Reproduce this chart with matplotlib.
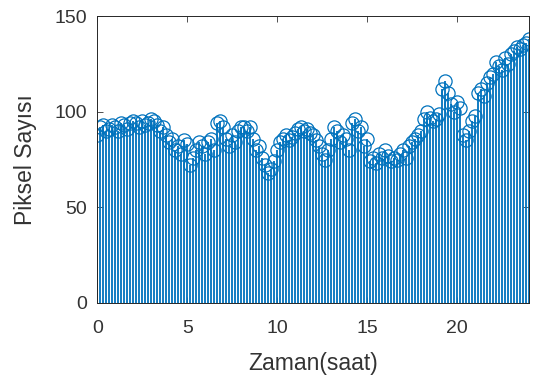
import numpy as np
import matplotlib
matplotlib.use("Agg")
import matplotlib.pyplot as plt

#_________________________________________
# DATA (one sample every 10 minutes)
#_________________________________________
hours = np.arange(0, 24 + 1e-9, 1/6)
pixels = [
    88, 92, 93, 90, 91, 93,
    92, 90, 94, 93, 91, 94,
    95, 94, 92, 95, 93, 94,
    96, 95, 93, 90, 92, 88,
    84, 86, 80, 82, 78, 85,
    83, 72, 76, 80, 84, 82,
    78, 84, 86, 80, 94, 95,
    92, 86, 82, 88, 84, 90,
    92, 92, 90, 92, 86, 80,
    82, 76, 72, 68, 70, 74,
    80, 84, 86, 88, 85, 87,
    89, 91, 92, 90, 91, 89,
    88, 85, 82, 78, 75, 80,
    86, 92, 90, 84, 88, 86,
    80, 94, 96, 90, 92, 82,
    86, 74, 76, 73, 78, 76,
    80, 77, 74, 76, 75, 78,
    80, 76, 82, 84, 86, 88,
    90, 96, 100, 97, 95, 96,
    99, 112, 116, 110, 104, 100,
    105, 102, 88, 85, 90, 95,
    98, 110, 112, 108, 115, 118,
    120, 126, 124, 122, 128, 125,
    130, 132, 134, 133, 135, 136,
    138,
]
x_ticks = [0, 5, 10, 15, 20]
y_ticks = [0, 50, 100, 150]

blue = '#0072BD'
grey = '#333333'
plt.rcParams["font.family"] = ["Liberation Sans", "DejaVu Sans"]

fig = plt.figure(figsize=(5.34, 3.85), dpi=100)
ax = fig.add_axes([0.182, 0.213, 0.809, 0.745])

markerline, stemlines, baseline = ax.stem(hours, pixels, basefmt=' ')
plt.setp(stemlines, color=blue, linewidth=1.3)
plt.setp(markerline, color=blue, markerfacecolor='none', markeredgewidth=0.9, markersize=9.5)

ax.set_xlim(0, 24)
ax.set_ylim(0, 150)
ax.set_xticks(x_ticks)
ax.set_yticks(y_ticks)
ax.tick_params(direction='in', top=True, right=True, labelsize=14,
               colors=grey, length=4, width=0.6)
ax.tick_params(axis='x', pad=12)
ax.tick_params(axis='y', pad=7)
for s in ax.spines.values():
    s.set_color('#262626')
    s.set_linewidth(0.7)

ax.set_xlabel('Zaman(saat)', fontsize=16.5, color=grey, labelpad=11)
ax.set_ylabel('Piksel Sayısı', fontsize=16.5, color=grey, labelpad=13)

plt.savefig('out.png', dpi=100)
